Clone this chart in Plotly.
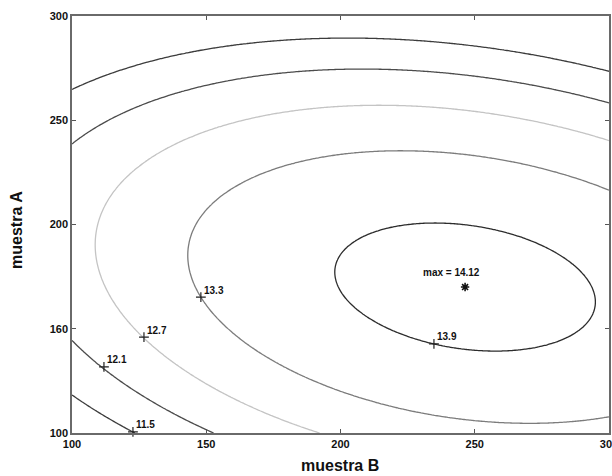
import numpy as np
import plotly.graph_objects as go

# Response-surface model in canonical form
peak_x = 246.4
peak_y = 170.0
peak_value = 14.07
coef_xx = 7.63e-5
coef_yy = 1.905e-4
coef_xy = 5.60e-5

contour_levels = [11.5, 12.1, 12.7, 13.3, 13.9]
contour_colors = ['#3c3c3c', '#4c4c4c', '#c4c4c4', '#7c7c7c', '#2c2c2c']

label_x = [122.7, 111.9, 126.8, 148.0, 234.8]
label_y = [100.5, 131.7, 146.0, 165.2, 142.7]
label_text = ['11.5', '12.1', '12.7', '13.3', '13.9']

max_x = [246.4]
max_y = [170.0]
max_text = 'max = 14.12'

x_ticks = [100, 150, 200, 250, 300]
x_ticktext = ['100', '150', '200', '250', '300']
y_ticks = [100, 150, 200, 250, 300]
y_ticktext = ['100', '160', '200', '250', '300']

xs = np.linspace(100, 300, 201)
ys = np.linspace(100, 300, 201)
X, Y = np.meshgrid(xs, ys)
dx = X - peak_x
dy = Y - peak_y
Z = peak_value - (coef_xx * dx ** 2 + coef_yy * dy ** 2 + coef_xy * dx * dy)

FONT = 'Liberation Sans, Arial, sans-serif'

fig = go.Figure()
for lvl, col in zip(contour_levels, contour_colors):
    fig.add_trace(go.Contour(
        x=xs, y=ys, z=Z,
        autocontour=False,
        contours=dict(start=lvl, end=lvl, size=1, coloring='none'),
        line=dict(color=col, width=1.3),
        showscale=False, hoverinfo='skip'))

fig.add_trace(go.Scatter(
    x=label_x, y=label_y, mode='markers',
    marker=dict(symbol='cross-thin-open', size=7, color='#222',
                line=dict(color='#222', width=1.2)),
    showlegend=False, hoverinfo='skip', cliponaxis=False))

for lx, ly, lt in zip(label_x, label_y, label_text):
    fig.add_annotation(x=lx, y=ly, text=lt, showarrow=False,
                       xanchor='left', yanchor='middle', xshift=1, yshift=7,
                       font=dict(family=FONT, size=10, color='#111', weight='bold'))

fig.add_trace(go.Scatter(
    x=max_x, y=max_y, mode='markers',
    marker=dict(symbol='asterisk-open', size=7, color='#111',
                line=dict(color='#111', width=1.6)),
    showlegend=False, hoverinfo='skip'))

fig.add_annotation(x=max_x[0], y=max_y[0], text=max_text, showarrow=False,
                   xshift=-14, yshift=15,
                   font=dict(family=FONT, size=10, color='#111', weight='bold'))

fig.add_annotation(xref='paper', yref='paper', x=0.499, y=-0.079,
                   text='muestra B', showarrow=False, xanchor='center', yanchor='middle',
                   font=dict(family=FONT, size=16, color='#111', weight='bold'))
fig.add_annotation(xref='paper', yref='paper', x=-0.1024, y=0.487,
                   text='muestra A', showarrow=False, textangle=-90,
                   xanchor='center', yanchor='middle',
                   font=dict(family=FONT, size=16, color='#111', weight='bold'))

axis_common = dict(showgrid=False, zeroline=False, showline=True, linecolor='#6a6a6a',
                   linewidth=1.5, mirror='ticks', ticks='inside', ticklen=4,
                   tickcolor='#555', tickwidth=1, automargin=False,
                   ticklabeloverflow='allow',
                   tickfont=dict(family=FONT, size=11, color='#111', weight='bold'))

fig.update_layout(
    width=612, height=476,
    margin=dict(l=72, r=3, t=16, b=43),
    paper_bgcolor='white', plot_bgcolor='white',
    showlegend=False,
    xaxis=dict(range=[100, 300], tickvals=x_ticks, ticktext=x_ticktext, **axis_common),
    yaxis=dict(range=[100, 300], tickvals=y_ticks, ticktext=y_ticktext, **axis_common),
)

post = ("document.body.style.margin='0';document.body.style.overflow='hidden';"
        "Plotly.relayout('{plot_id}', {width: 612, height: 476});")
fig.write_html('out.html', post_script=post, config={'displayModeBar': False})
